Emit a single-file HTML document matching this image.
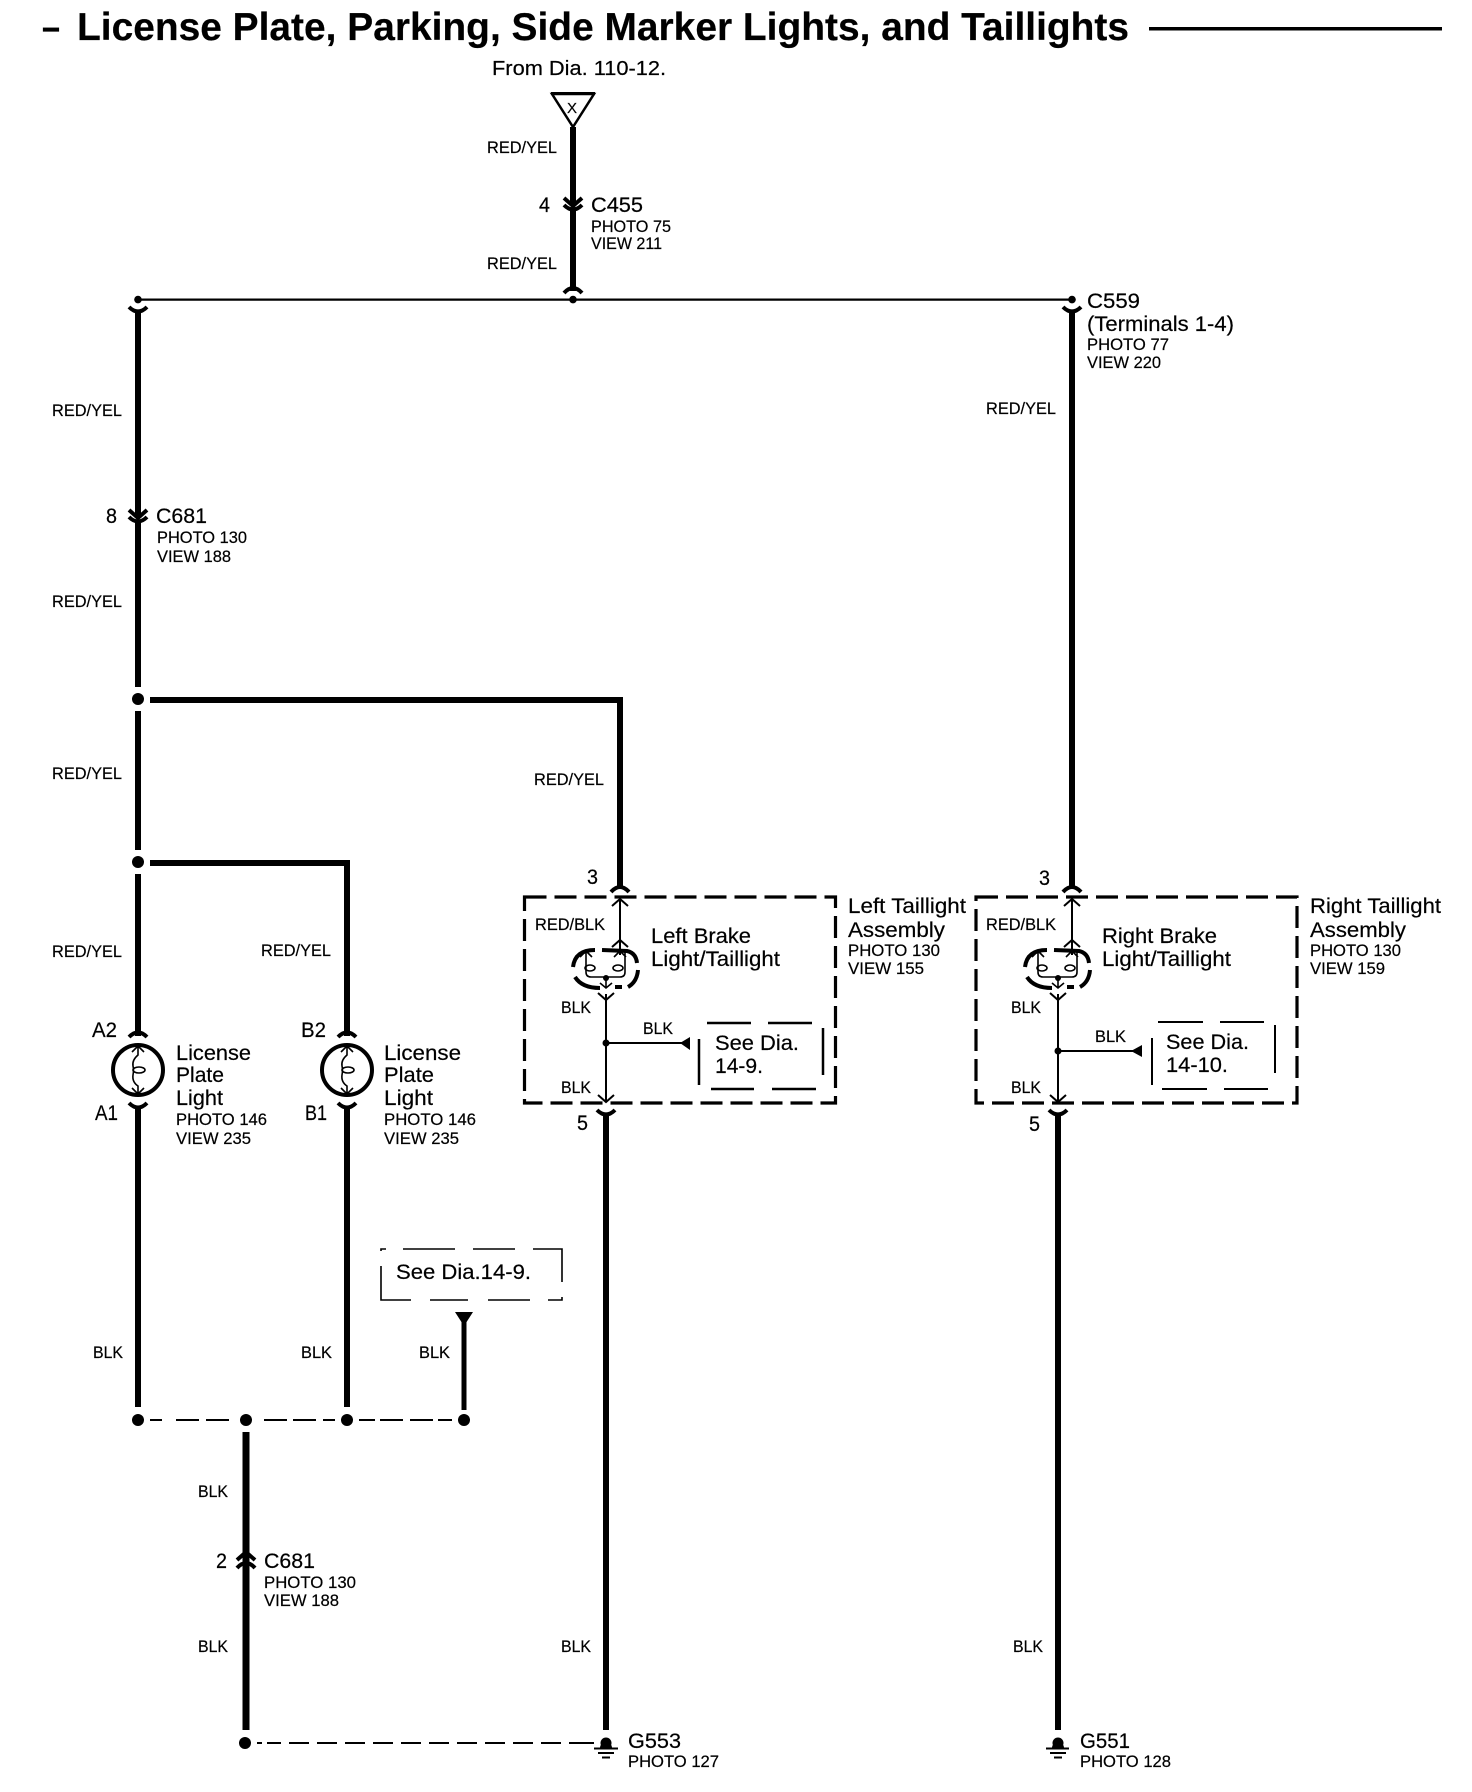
<!DOCTYPE html>
<html><head><meta charset="utf-8"><style>
html,body{margin:0;padding:0;background:#fff;width:1472px;height:1792px;overflow:hidden}
svg{display:block}
text{font-family:"Liberation Sans",sans-serif;fill:#000;stroke:#000;stroke-width:.2px;transform:translate(-1px,0)}
.s{font-size:16.5px}.m{font-size:21.5px}.f{font-size:20px}
.t{font-size:39px;font-weight:bold}
.w{stroke:#000;stroke-width:6;fill:none}
.n{stroke:#000;stroke-width:2;fill:none}
.c{stroke:#000;stroke-width:4;fill:none}
.a{stroke:#000;stroke-width:1.6;fill:none}
</style></head><body>
<svg xmlns="http://www.w3.org/2000/svg" width="1472" height="1792" viewBox="0 0 1472 1792">
<rect width="1472" height="1792" fill="#fff"/>
<!-- title -->
<text class="t" x="43" y="40" textLength="18" lengthAdjust="spacingAndGlyphs">–</text>
<text class="t" x="78" y="40" textLength="1052" lengthAdjust="spacingAndGlyphs">License Plate, Parking, Side Marker Lights, and Taillights</text>
<rect x="1149" y="27" width="293" height="3.5"/>
<text class="f" x="493" y="75" textLength="174" lengthAdjust="spacingAndGlyphs">From Dia. 110-12.</text>
<!-- triangle -->
<path d="M552,94 H594 L573,127 Z" fill="none" stroke="#000" stroke-width="2.5"/>
<rect x="551" y="92" width="44" height="3"/>
<text x="568" y="113" font-size="15">X</text>
<!-- top wires -->
<path class="w" d="M573,127V205M573,209V291"/>
<path class="c" d="M564,198L573,206L582,198M564,205Q573,214 582,205M564,293Q573,283 582,293"/>
<path d="M138,299.6H1072" stroke="#000" stroke-width="2.2"/>
<circle cx="138" cy="299.6" r="3.8"/><circle cx="573" cy="299.6" r="3.8"/><circle cx="1072" cy="299.6" r="3.8"/>
<text class="s" x="488" y="153" textLength="70" lengthAdjust="spacingAndGlyphs">RED/YEL</text>
<text class="m" x="540" y="212" textLength="11" lengthAdjust="spacingAndGlyphs">4</text>
<text class="m" x="592" y="212" textLength="52" lengthAdjust="spacingAndGlyphs">C455</text>
<text class="s" x="592" y="232" textLength="80" lengthAdjust="spacingAndGlyphs">PHOTO 75</text>
<text class="s" x="592" y="249" textLength="71" lengthAdjust="spacingAndGlyphs">VIEW 211</text>
<text class="s" x="488" y="269" textLength="70" lengthAdjust="spacingAndGlyphs">RED/YEL</text>
<!-- left main -->
<path class="w" d="M138,311V516M138,520V687M138,711V850M138,874V1036M138,1106V1407"/>
<path class="c" d="M129,307Q138,316 147,307M129,510L138,518L147,510M129,517Q138,526 147,517M129,1037Q138,1028 147,1037M129,1103Q138,1112 147,1103"/>
<circle cx="138" cy="699" r="6"/><circle cx="138" cy="862" r="6"/>
<text class="s" x="53" y="416" textLength="70" lengthAdjust="spacingAndGlyphs">RED/YEL</text>
<text class="m" x="107" y="523" textLength="11" lengthAdjust="spacingAndGlyphs">8</text>
<text class="m" x="157" y="523" textLength="51" lengthAdjust="spacingAndGlyphs">C681</text>
<text class="s" x="158" y="543" textLength="90" lengthAdjust="spacingAndGlyphs">PHOTO 130</text>
<text class="s" x="158" y="562" textLength="74" lengthAdjust="spacingAndGlyphs">VIEW 188</text>
<text class="s" x="53" y="607" textLength="70" lengthAdjust="spacingAndGlyphs">RED/YEL</text>
<text class="s" x="53" y="779" textLength="70" lengthAdjust="spacingAndGlyphs">RED/YEL</text>
<text class="s" x="53" y="957" textLength="70" lengthAdjust="spacingAndGlyphs">RED/YEL</text>
<text class="s" x="262" y="956" textLength="70" lengthAdjust="spacingAndGlyphs">RED/YEL</text>
<text class="s" x="535" y="785" textLength="70" lengthAdjust="spacingAndGlyphs">RED/YEL</text>
<!-- branches -->
<path class="w" d="M150,700H620V888"/>
<path class="w" d="M150,863H347V1036M347,1106V1407"/>
<path class="w" d="M1072,311V888"/>
<path class="c" d="M1063,307Q1072,316 1081,307M338,1037Q347,1028 356,1037M338,1103Q347,1112 356,1103"/>
<!-- license lights -->
<g id="lic">
<circle cx="138" cy="1070" r="25" fill="none" stroke="#000" stroke-width="4"/>
<path class="a" d="M138,1046V1055Q132,1060 133,1066Q134,1070 133,1075Q132,1082 138,1086V1094M132,1052L138,1046L144,1052M132,1088L138,1094L144,1088"/>
<ellipse cx="139" cy="1070" rx="6" ry="3" class="a"/>
</g>
<g transform="translate(209,0)">
<circle cx="138" cy="1070" r="25" fill="none" stroke="#000" stroke-width="4"/>
<path class="a" d="M138,1046V1055Q132,1060 133,1066Q134,1070 133,1075Q132,1082 138,1086V1094M132,1052L138,1046L144,1052M132,1088L138,1094L144,1088"/>
<ellipse cx="139" cy="1070" rx="6" ry="3" class="a"/>
</g>
<text class="m" x="93" y="1037" textLength="25" lengthAdjust="spacingAndGlyphs">A2</text>
<text class="m" x="96" y="1120" textLength="23" lengthAdjust="spacingAndGlyphs">A1</text>
<text class="m" x="302" y="1037" textLength="25" lengthAdjust="spacingAndGlyphs">B2</text>
<text class="m" x="306" y="1120" textLength="22" lengthAdjust="spacingAndGlyphs">B1</text>
<text class="m" x="177" y="1060" textLength="75" lengthAdjust="spacingAndGlyphs">License</text>
<text class="m" x="177" y="1082" textLength="48" lengthAdjust="spacingAndGlyphs">Plate</text>
<text class="m" x="177" y="1105" textLength="47" lengthAdjust="spacingAndGlyphs">Light</text>
<text class="s" x="177" y="1125" textLength="91" lengthAdjust="spacingAndGlyphs">PHOTO 146</text>
<text class="s" x="177" y="1144" textLength="75" lengthAdjust="spacingAndGlyphs">VIEW 235</text>
<text class="m" x="385" y="1060" textLength="77" lengthAdjust="spacingAndGlyphs">License</text>
<text class="m" x="385" y="1082" textLength="50" lengthAdjust="spacingAndGlyphs">Plate</text>
<text class="m" x="385" y="1105" textLength="49" lengthAdjust="spacingAndGlyphs">Light</text>
<text class="s" x="385" y="1125" textLength="92" lengthAdjust="spacingAndGlyphs">PHOTO 146</text>
<text class="s" x="385" y="1144" textLength="75" lengthAdjust="spacingAndGlyphs">VIEW 235</text>
<!-- taillight boxes -->
<rect x="524.5" y="897" width="311" height="206" fill="none" stroke="#000" stroke-width="3.2" stroke-dasharray="22 8"/>
<rect x="976" y="897" width="321" height="206" fill="none" stroke="#000" stroke-width="3.2" stroke-dasharray="22 8"/>
<g id="L">
<path class="c" d="M611,892Q620,882 629,892"/>
<path class="n" d="M620,898V955"/>
<path class="n" d="M612,906L620,899L628,906M612,947L620,940L628,947"/>
<path d="M573,967Q575,950 595,950M602,950L627,951Q636,953 637,963M638,970Q637,982 628,987M615,987L622,987M575,977Q582,988 600,988" fill="none" stroke="#000" stroke-width="4"/>
<path class="a" d="M586,951V972Q586,977 591,977H620Q625,977 625,972V951M580,957L586,951L592,957M614,957L620,951L626,957M606,978V988M600,983L606,988L612,983"/>
<ellipse cx="590" cy="968" rx="5" ry="3" class="a"/><ellipse cx="618" cy="968" rx="5" ry="3" class="a"/>
<circle cx="606" cy="978" r="3"/>
<path class="n" d="M606,994V1102M598,993L606,1000L614,993M598,1095L606,1102L614,1095"/>
<path class="w" d="M606,1113V1730"/>
<path class="c" d="M597,1110Q606,1119 615,1110"/>
</g>
<g transform="translate(452,0)">
<path class="c" d="M611,892Q620,882 629,892"/>
<path class="n" d="M620,898V955"/>
<path class="n" d="M612,906L620,899L628,906M612,947L620,940L628,947"/>
<path d="M573,967Q575,950 595,950M602,950L627,951Q636,953 637,963M638,970Q637,982 628,987M615,987L622,987M575,977Q582,988 600,988" fill="none" stroke="#000" stroke-width="4"/>
<path class="a" d="M586,951V972Q586,977 591,977H620Q625,977 625,972V951M580,957L586,951L592,957M614,957L620,951L626,957M606,978V988M600,983L606,988L612,983"/>
<ellipse cx="590" cy="968" rx="5" ry="3" class="a"/><ellipse cx="618" cy="968" rx="5" ry="3" class="a"/>
<circle cx="606" cy="978" r="3"/>
<path class="n" d="M606,994V1102M598,993L606,1000L614,993M598,1095L606,1102L614,1095"/>
<path class="w" d="M606,1113V1730"/>
<path class="c" d="M597,1110Q606,1119 615,1110"/>
</g>
<!-- left branch -->
<circle cx="606" cy="1043" r="3.5"/>
<path class="n" d="M606,1043H682"/>
<path d="M680,1043L690,1037V1050Z"/>
<path d="M699,1039V1085M823,1028V1075" stroke="#000" stroke-width="2.5"/>
<path d="M707,1023H751M768,1023H812M711,1089H754M772,1089H816" stroke="#000" stroke-width="2.5"/>
<!-- right branch -->
<circle cx="1058" cy="1051" r="3.5"/>
<path class="n" d="M1058,1051H1133"/>
<path d="M1131,1051L1142,1045V1057Z"/>
<path d="M1152,1038V1085M1275,1025V1073" stroke="#000" stroke-width="2"/>
<path d="M1158,1022H1203M1220,1022H1264M1162,1089H1207M1224,1089H1268" stroke="#000" stroke-width="2"/>
<!-- left box text -->
<text class="m" x="588" y="884" textLength="11" lengthAdjust="spacingAndGlyphs">3</text>
<text class="s" x="536" y="930" textLength="70" lengthAdjust="spacingAndGlyphs">RED/BLK</text>
<text class="m" x="652" y="943" textLength="100" lengthAdjust="spacingAndGlyphs">Left Brake</text>
<text class="m" x="652" y="966" textLength="129" lengthAdjust="spacingAndGlyphs">Light/Taillight</text>
<text class="s" x="562" y="1013" textLength="30" lengthAdjust="spacingAndGlyphs">BLK</text>
<text class="s" x="644" y="1034" textLength="30" lengthAdjust="spacingAndGlyphs">BLK</text>
<text class="s" x="562" y="1093" textLength="30" lengthAdjust="spacingAndGlyphs">BLK</text>
<text class="m" x="716" y="1050" textLength="84" lengthAdjust="spacingAndGlyphs">See Dia.</text>
<text class="m" x="716" y="1073" textLength="48" lengthAdjust="spacingAndGlyphs">14-9.</text>
<text class="m" x="578" y="1130" textLength="11" lengthAdjust="spacingAndGlyphs">5</text>
<text class="m" x="849" y="913" textLength="118" lengthAdjust="spacingAndGlyphs">Left Taillight</text>
<text class="m" x="849" y="937" textLength="97" lengthAdjust="spacingAndGlyphs">Assembly</text>
<text class="s" x="849" y="956" textLength="92" lengthAdjust="spacingAndGlyphs">PHOTO 130</text>
<text class="s" x="849" y="974" textLength="76" lengthAdjust="spacingAndGlyphs">VIEW 155</text>
<!-- right box text -->
<text class="m" x="1040" y="885" textLength="11" lengthAdjust="spacingAndGlyphs">3</text>
<text class="s" x="987" y="930" textLength="70" lengthAdjust="spacingAndGlyphs">RED/BLK</text>
<text class="m" x="1103" y="943" textLength="115" lengthAdjust="spacingAndGlyphs">Right Brake</text>
<text class="m" x="1103" y="966" textLength="129" lengthAdjust="spacingAndGlyphs">Light/Taillight</text>
<text class="s" x="1012" y="1013" textLength="30" lengthAdjust="spacingAndGlyphs">BLK</text>
<text class="s" x="1096" y="1042" textLength="31" lengthAdjust="spacingAndGlyphs">BLK</text>
<text class="s" x="1012" y="1093" textLength="30" lengthAdjust="spacingAndGlyphs">BLK</text>
<text class="m" x="1167" y="1049" textLength="83" lengthAdjust="spacingAndGlyphs">See Dia.</text>
<text class="m" x="1167" y="1072" textLength="62" lengthAdjust="spacingAndGlyphs">14-10.</text>
<text class="m" x="1030" y="1131" textLength="11" lengthAdjust="spacingAndGlyphs">5</text>
<text class="m" x="1311" y="913" textLength="131" lengthAdjust="spacingAndGlyphs">Right Taillight</text>
<text class="m" x="1311" y="937" textLength="96" lengthAdjust="spacingAndGlyphs">Assembly</text>
<text class="s" x="1311" y="956" textLength="91" lengthAdjust="spacingAndGlyphs">PHOTO 130</text>
<text class="s" x="1311" y="974" textLength="75" lengthAdjust="spacingAndGlyphs">VIEW 159</text>
<!-- C559 -->
<text class="m" x="1088" y="308" textLength="53" lengthAdjust="spacingAndGlyphs">C559</text>
<text class="m" x="1088" y="331" textLength="147" lengthAdjust="spacingAndGlyphs">(Terminals 1-4)</text>
<text class="s" x="1088" y="350" textLength="82" lengthAdjust="spacingAndGlyphs">PHOTO 77</text>
<text class="s" x="1088" y="368" textLength="74" lengthAdjust="spacingAndGlyphs">VIEW 220</text>
<text class="s" x="987" y="414" textLength="70" lengthAdjust="spacingAndGlyphs">RED/YEL</text>
<!-- See Dia box -->
<path d="M381,1251V1249H386M403,1249H455M473,1249H515M533,1249H562V1282M562,1297V1300H548M530,1300H488M468,1300H430M411,1300H381V1266" fill="none" stroke="#000" stroke-width="1.6"/>
<text class="m" x="397" y="1279" textLength="135" lengthAdjust="spacingAndGlyphs">See Dia.14-9.</text>
<path d="M455,1312H473L464,1326Z"/>
<path d="M464,1322V1410" stroke="#000" stroke-width="5"/>
<!-- bottom bus -->
<circle cx="138" cy="1420" r="6"/><circle cx="246" cy="1420" r="6"/><circle cx="347" cy="1420" r="6"/><circle cx="464" cy="1420" r="6"/>
<path d="M150,1420H162M176,1420H199M206,1420H229M264,1420H287M293,1420H316M323,1420H335M359,1420H375M380,1420H403M410,1420H433M438,1420H452" stroke="#000" stroke-width="2"/>
<text class="s" x="94" y="1358" textLength="30" lengthAdjust="spacingAndGlyphs">BLK</text>
<text class="s" x="302" y="1358" textLength="31" lengthAdjust="spacingAndGlyphs">BLK</text>
<text class="s" x="420" y="1358" textLength="31" lengthAdjust="spacingAndGlyphs">BLK</text>
<!-- lower C681 -->
<path d="M246,1432V1730" stroke="#000" stroke-width="7"/>
<path d="M237,1560L246,1552L255,1560M237,1568Q246,1558 255,1568" fill="none" stroke="#000" stroke-width="4"/>
<text class="s" x="199" y="1497" textLength="30" lengthAdjust="spacingAndGlyphs">BLK</text>
<text class="s" x="199" y="1652" textLength="30" lengthAdjust="spacingAndGlyphs">BLK</text>
<text class="m" x="217" y="1568" textLength="11" lengthAdjust="spacingAndGlyphs">2</text>
<text class="m" x="265" y="1568" textLength="51" lengthAdjust="spacingAndGlyphs">C681</text>
<text class="s" x="265" y="1588" textLength="92" lengthAdjust="spacingAndGlyphs">PHOTO 130</text>
<text class="s" x="265" y="1606" textLength="75" lengthAdjust="spacingAndGlyphs">VIEW 188</text>
<text class="s" x="562" y="1652" textLength="30" lengthAdjust="spacingAndGlyphs">BLK</text>
<text class="s" x="1014" y="1652" textLength="30" lengthAdjust="spacingAndGlyphs">BLK</text>
<!-- grounds -->
<circle cx="245" cy="1743" r="6"/>
<path d="M257,1743H262M267,1743H281M289,1743H309M317,1743H337M345,1743H365M373,1743H393M401,1743H421M429,1743H449M457,1743H477M485,1743H505M513,1743H533M541,1743H561M569,1743H594" stroke="#000" stroke-width="2"/>
<path d="M600,1748A6,6 0 0 1 612,1748Z"/><circle cx="606" cy="1743" r="5.5"/>
<path d="M594,1748.5H618M598,1753H614M602,1757.5H610" stroke="#000" stroke-width="2"/>
<path d="M1052,1748A6,6 0 0 1 1064,1748Z"/><circle cx="1058" cy="1743" r="5.5"/>
<path d="M1046,1748.5H1069M1050,1753H1066M1054,1757.5H1062" stroke="#000" stroke-width="2"/>
<text class="m" x="629" y="1748" textLength="53" lengthAdjust="spacingAndGlyphs">G553</text>
<text class="s" x="629" y="1767" textLength="91" lengthAdjust="spacingAndGlyphs">PHOTO 127</text>
<text class="m" x="1081" y="1748" textLength="50" lengthAdjust="spacingAndGlyphs">G551</text>
<text class="s" x="1081" y="1767" textLength="91" lengthAdjust="spacingAndGlyphs">PHOTO 128</text>
</svg>
</body></html>
